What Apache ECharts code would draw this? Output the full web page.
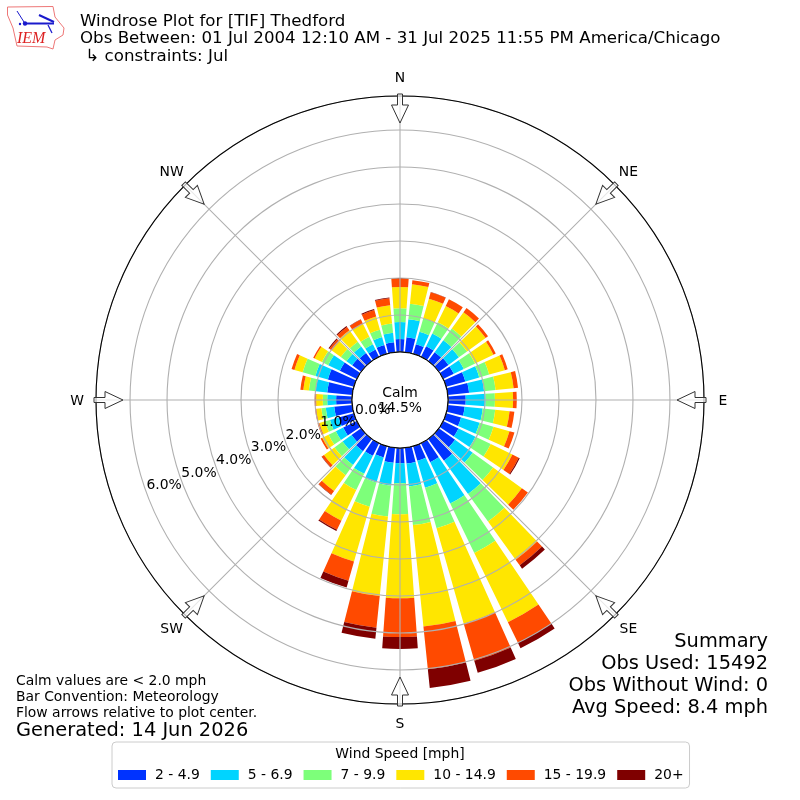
<!DOCTYPE html>
<html>
<head>
<meta charset="utf-8">
<script src="https://cdn.jsdelivr.net/npm/echarts@6/dist/echarts.min.js"></script>
<style>html,body{margin:0;padding:0;background:#fff}#c{width:800px;height:800px}</style>
</head>
<body>
<div id="c"></div>
<script>
const directions = [0,10,20,30,40,50,60,70,80,90,100,110,120,130,140,150,160,170,180,190,200,210,220,230,240,250,260,270,280,290,300,310,320,330,340,350];
const speed2to5 = [.35,.41,.27,.32,.30,.32,.32,.54,.58,.48,.46,.42,.46,.54,.73,.57,.41,.43,.41,.41,.32,.38,.41,.32,.41,.43,.49,.43,.68,.73,.51,.30,.27,.22,.25,.27];
const speed5to7 = [.46,.49,.35,.38,.40,.35,.30,.39,.41,.54,.49,.52,.51,.59,1.11,1.24,.76,.62,.54,.62,.70,.54,.46,.30,.22,.24,.23,.24,.32,.35,.35,.19,.22,.16,.22,.26];
const speed7to10 = [.37,.42,.38,.34,.39,.27,.34,.28,.31,.25,.34,.39,.46,.68,.92,1.49,1.14,1.05,.84,.84,.68,.49,.34,.27,.22,.14,.12,.12,.18,.36,.19,.19,.16,.22,.21,.25];
const speed10to15 = [.58,.53,.55,.49,.54,.62,.55,.44,.49,.49,.39,.45,.65,.96,1.27,2.08,2.68,2.76,2.27,2.16,1.54,.92,.53,.35,.19,.16,.14,.18,.15,.23,.22,.30,.38,.39,.37,.50];
const speed15to20 = [.24,.11,.18,.20,.14,.08,.07,.08,.12,.10,.13,.14,.19,.20,.19,.62,1.04,1.16,1.05,.86,.54,.27,.12,.07,.05,.05,.03,.04,.08,.08,.04,.08,.11,.13,.18,.19];
const speed20up = [0,0,.01,0,0,0,0,0,0,0,0,0,.03,0,.11,.16,.34,.51,.32,.30,.19,.04,.01,.01,0,0,0,0,0,0,0,.03,.03,.01,.03,.02];
const speedNames = ['2 - 4.9','5 - 6.9','7 - 9.9','10 - 14.9','15 - 19.9','20+'];
const speedColors = ['#0033ff','#00d4ff','#7dff7a','#ffe600','#ff4a00','#7f0000'];
const compassLabels = ['N','NE','E','SE','S','SW','W','NW'];
const radialTicks = [0,1,2,3,4,5,6];
const radialTickLabels = ['0.0%','1.0%','2.0%','3.0%','4.0%','5.0%','6.0%'];
const radialLabelAngle = 250;
const radialMax = 6.92;

const FONT = '"DejaVu Sans"';
const speedArrays = [speed2to5, speed5to7, speed7to10, speed10to15, speed15to20, speed20up];
const series = speedArrays.map((vals, k) => ({
  type: 'bar',
  name: speedNames[k],
  coordinateSystem: 'polar',
  polarIndex: 0,
  stack: 'wind',
  barWidth: '82%',
  itemStyle: { color: speedColors[k] },
  silent: true,
  animation: false,
  data: vals.map((v, i) => [v, directions[i]])
}));
series.push({
  type: 'scatter',
  name: 'radial labels',
  coordinateSystem: 'polar',
  polarIndex: 1,
  z: 45,
  silent: true,
  animation: false,
  symbolSize: 1,
  itemStyle: { color: 'rgba(0,0,0,0)', opacity: 1 },
  label: {
    show: true, position: 'inside', color: '#000', opacity: 1, fontSize: 13.9, fontFamily: FONT,
    align: 'center', verticalAlign: 'middle', textBorderWidth: 0,
    formatter: p => radialTickLabels[p.dataIndex]
  },
  labelLayout: { hideOverlap: false },
  data: radialTicks.map(v => [v, radialLabelAngle])
});

const arrowPts = [[-2.5,-306],[2.5,-306],[2.5,-295],[8.5,-295],[0,-277],[-8.5,-295],[-2.5,-295]];
const arrows = compassLabels.map((_, i) => ({
  type: 'polygon', x: 400, y: 400, rotation: -i * Math.PI / 4, z: 50,
  shape: { points: arrowPts },
  style: { fill: 'rgba(255,255,255,0.7)', stroke: '#333', lineWidth: 1 }
}));

function text(x, y, t, size, extra) {
  return { type: 'text', x, y: y + 1, z: 60, style: Object.assign({ text: t, fill: '#000', font: size + 'px ' + FONT, textAlign: 'left', textVerticalAlign: 'middle' }, extra || {}) };
}

const compassTexts = compassLabels.map((t, i) => {
  const a = i * Math.PI / 4;
  return text(400 + 323 * Math.sin(a), 400 - 323 * Math.cos(a), t, 13.9, { textAlign: 'center' });
});

const logo = [
  { type: 'polygon', z: 60, shape: { points: [[7.5,7],[53,6.5],[55,17],[64,28],[63,35],[55,40],[53,49],[47,47],[17,46],[13,28],[7.5,15]] }, style: { fill: '#fff', stroke: '#e77', lineWidth: 1 } },
  { type: 'line', z: 61, shape: { x1: 25, y1: 23.5, x2: 54, y2: 23.5 }, style: { stroke: '#1a1acc', lineWidth: 2 } },
  { type: 'line', z: 61, shape: { x1: 39, y1: 15, x2: 54, y2: 22 }, style: { stroke: '#1a1acc', lineWidth: 2 } },
  { type: 'line', z: 61, shape: { x1: 17, y1: 11, x2: 24, y2: 22 }, style: { stroke: '#1a1acc', lineWidth: 1 } },
  { type: 'line', z: 61, shape: { x1: 48, y1: 25, x2: 52, y2: 33 }, style: { stroke: '#1a1acc', lineWidth: 1.2 } },
  { type: 'circle', z: 61, shape: { cx: 25, cy: 23.5, r: 2.2 }, style: { fill: '#1a1acc' } },
  { type: 'circle', z: 61, shape: { cx: 20, cy: 24, r: 1.2 }, style: { fill: '#1a1acc' } },
  text(17, 38, 'IEM', 16, { fill: '#d22', font: 'italic 16px "Liberation Serif"' })
];

const graphicEls = [
  { type: 'circle', z: 40, shape: { cx: 400, cy: 400, r: 48 }, style: { fill: '#fff', stroke: '#000', lineWidth: 1 } },
  ...arrows,
  ...compassTexts,
  text(400, 392, 'Calm', 13.9, { textAlign: 'center' }),
  text(400, 407, '14.5%', 13.9, { textAlign: 'center' }),
  text(80, 21, 'Windrose Plot for [TIF] Thedford', 16.67),
  text(80, 38, 'Obs Between: 01 Jul 2004 12:10 AM - 31 Jul 2025 11:55 PM America/Chicago', 16.67),
  text(80, 55.5, ' \u21B3 constraints: Jul', 16.67),
  text(768, 641, 'Summary', 19.4, { textAlign: 'right' }),
  text(768, 663, 'Obs Used: 15492', 19.4, { textAlign: 'right' }),
  text(768, 685, 'Obs Without Wind: 0', 19.4, { textAlign: 'right' }),
  text(768, 707, 'Avg Speed: 8.4 mph', 19.4, { textAlign: 'right' }),
  text(16, 680, 'Calm values are < 2.0 mph', 13.9),
  text(16, 696, 'Bar Convention: Meteorology', 13.9),
  text(16, 712, 'Flow arrows relative to plot center.', 13.9),
  text(16, 730, 'Generated: 14 Jun 2026', 19.4),
  text(400, 753, 'Wind Speed [mph]', 13.9, { textAlign: 'center' }),
  ...logo
];

const chart = echarts.init(document.getElementById('c'), null, { renderer: 'canvas', width: 800, height: 800 });
chart.setOption({
  backgroundColor: '#fff',
  animation: false,
  textStyle: { fontFamily: FONT },
  polar: [
    { center: [400, 400], radius: [48, 304] },
    { center: [400, 400], radius: [29, 285] }
  ],
  angleAxis: [
    {
      polarIndex: 0, type: 'value', min: 0, max: 360, interval: 45, startAngle: 90, clockwise: true, z: 10,
      axisLine: { show: true, lineStyle: { color: '#000', width: 1.1 } },
      axisTick: { show: false },
      splitLine: { show: true, lineStyle: { color: '#b0b0b0', width: 1.1 } },
      axisLabel: { show: false }
    },
    {
      polarIndex: 1, type: 'value', min: 0, max: 360, startAngle: 90, clockwise: true, show: false
    }
  ],
  radiusAxis: [
    {
      polarIndex: 0, type: 'value', min: 0, max: radialMax, interval: 1, z: 10,
      axisLine: { show: false }, axisTick: { show: false }, axisLabel: { show: false },
      splitLine: { show: true, lineStyle: { color: '#b0b0b0', width: 1.1 } }
    },
    {
      polarIndex: 1, type: 'value', min: 0, max: radialMax, interval: 1, show: false
    }
  ],
  legend: {
    show: true,
    left: 112, top: 742, width: 576,
    orient: 'horizontal',
    padding: [26, 6, 6, 6],
    itemWidth: 28, itemHeight: 10, itemGap: 11,
    icon: 'rect',
    backgroundColor: '#fff',
    borderColor: '#ccc', borderWidth: 1, borderRadius: 4,
    textStyle: { color: '#000', fontSize: 13.9, fontFamily: FONT, padding: [0, 0, 0, 4] },
    data: speedNames
  },
  graphic: { elements: graphicEls },
  series
});
</script>
</body>
</html>
